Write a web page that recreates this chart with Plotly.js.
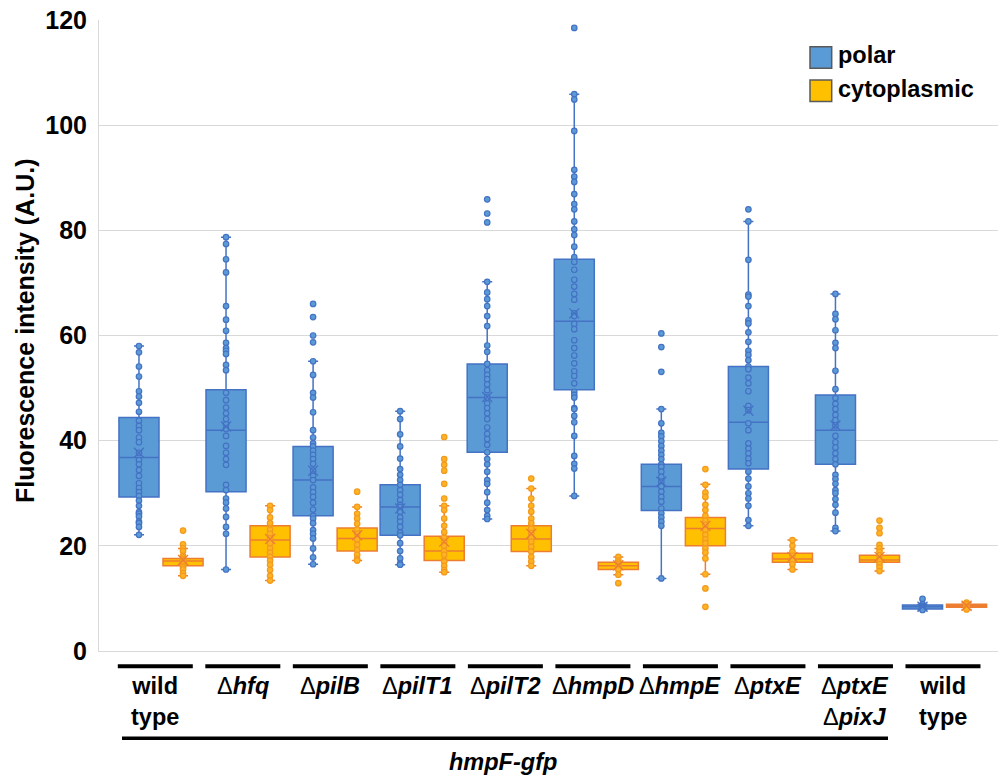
<!DOCTYPE html>
<html>
<head>
<meta charset="utf-8">
<script src="https://cdn.plot.ly/plotly-3.0.1.min.js"></script>
<style>html,body{margin:0;padding:0;background:#fff;}#chart{width:998px;height:781px;}</style>
</head>
<body>
<div id="chart"></div>
<script>
// ---------- data ----------
const categories = ['wild<br>type', 'Δ<i>hfq</i>', 'Δ<i>pilB</i>', 'Δ<i>pilT1</i>', 'Δ<i>pilT2</i>',
  'Δ<i>hmpD</i>', 'Δ<i>hmpE</i>', 'Δ<i>ptxE</i>', 'Δ<i>ptxE</i><br>Δ<i>pixJ</i>', 'wild<br>type'];
const seriesNames = ['polar', 'cytoplasmic'];
const groupLabel = 'hmpF-gfp';
const yTitle = 'Fluorescence intensity (A.U.)';

// polar box statistics
const polarQ1     = [29.3, 30.3, 25.7, 22.0, 37.8, 49.7, 26.7, 34.6, 35.5, 8.0];
const polarMedian = [36.8, 42.0, 32.5, 27.4, 48.2, 62.7, 31.3, 43.5, 42.0, 8.4];
const polarQ3     = [44.4, 49.7, 38.9, 31.6, 54.6, 74.5, 35.5, 54.1, 48.7, 8.75];
const polarLow    = [22.1, 15.5, 16.5, 16.4, 25.1, 29.5, 13.8, 23.8, 22.8, 7.8];
const polarHigh   = [58.0, 78.7, 55.1, 45.6, 70.2, 105.9, 46.0, 81.7, 67.9, 8.9];
const polarMean   = [37.7, 42.7, 34.3, 27.1, 48.3, 64.2, 32.2, 45.7, 42.9, 8.4];

// cytoplasmic box statistics
const cytoQ1     = [16.2, 17.9, 19.0, 17.2, 18.9, 15.5, 20.0, 16.9, 16.9, 8.3];
const cytoMedian = [17.1, 21.1, 21.4, 19.0, 21.3, 16.2, 23.3, 17.5, 17.3, 8.6];
const cytoQ3     = [17.6, 23.8, 23.4, 21.8, 23.8, 16.9, 25.4, 18.6, 18.2, 8.9];
const cytoLow    = [14.3, 13.4, 17.2, 15.0, 16.2, 14.5, 14.6, 15.5, 15.2, 7.9];
const cytoHigh   = [19.5, 27.6, 27.4, 27.6, 30.9, 17.9, 31.7, 21.1, 19.5, 9.2];
const cytoMean   = [17.3, 21.3, 22.0, 20.8, 22.3, 16.3, 23.8, 17.9, 17.9, 8.6];

// individual measurements
const polarPoints = [
  [58.0, 56.8, 54.1, 52.2, 49.4, 48.4, 47.2, 45.5, 43.8, 42.8, 42.0, 40.6, 39.7, 37.7, 36.3, 35.5, 34.4, 33.3, 31.9, 31.0, 30.2, 29.5, 28.6, 27.6, 26.4, 26.1, 25.6, 24.6, 24.3, 23.6, 22.1],
  [78.7, 77.4, 74.5, 72.0, 65.6, 63.0, 60.9, 58.6, 57.6, 57.1, 56.5, 54.4, 53.4, 49.1, 47.7, 46.3, 45.2, 44.1, 43.1, 42.2, 40.9, 39.0, 37.7, 36.5, 35.4, 31.6, 30.6, 29.0, 28.2, 27.1, 25.5, 23.6, 22.3, 15.5],
  [66.0, 63.5, 60.0, 58.7, 55.1, 52.5, 49.1, 48.2, 45.4, 42.0, 40.6, 39.5, 38.9, 38.1, 37.3, 36.5, 35.6, 34.3, 33.3, 32.5, 31.1, 30.2, 29.3, 28.2, 26.9, 25.7, 25.2, 24.3, 23.0, 22.3, 21.4, 19.5, 17.8, 16.5],
  [45.6, 44.1, 41.2, 38.9, 36.6, 34.6, 33.5, 32.5, 31.6, 30.6, 29.7, 28.7, 27.8, 27.4, 26.5, 25.4, 24.6, 23.6, 22.5, 22.0, 20.5, 19.0, 17.6, 16.6, 16.4],
  [85.9, 83.2, 81.5, 70.2, 68.2, 66.9, 65.6, 63.7, 61.8, 58.1, 56.9, 54.6, 53.4, 52.5, 51.7, 50.7, 49.6, 48.2, 47.1, 46.2, 45.2, 44.1, 42.5, 41.3, 40.3, 39.2, 37.8, 36.5, 35.5, 34.1, 32.5, 31.8, 30.2, 28.2, 26.8, 25.7, 25.1],
  [118.5, 105.9, 104.9, 98.9, 91.5, 90.2, 89.2, 86.9, 85.0, 84.0, 81.7, 80.2, 79.1, 76.9, 74.9, 74.0, 72.5, 70.6, 69.3, 67.9, 66.8, 64.2, 63.7, 62.2, 61.2, 59.1, 57.6, 56.2, 54.7, 53.2, 52.3, 50.9, 49.3, 48.7, 48.2, 46.2, 46.0, 44.7, 43.5, 40.9, 37.1, 35.6, 34.7, 29.5],
  [60.4, 57.8, 53.1, 46.0, 43.3, 41.5, 40.8, 39.9, 39.0, 38.1, 37.3, 36.5, 35.5, 35.0, 34.1, 33.1, 32.2, 31.3, 30.3, 29.3, 28.4, 27.1, 26.2, 25.4, 24.6, 23.8, 13.8],
  [84.0, 81.7, 74.4, 67.8, 67.4, 65.6, 62.9, 62.3, 60.6, 58.8, 57.1, 56.3, 55.3, 54.1, 53.6, 52.0, 50.9, 49.4, 46.6, 45.8, 43.3, 42.0, 39.5, 38.5, 37.6, 36.6, 35.7, 34.1, 32.8, 31.3, 30.0, 29.0, 27.6, 24.9, 23.8],
  [67.9, 64.1, 63.1, 61.0, 58.6, 57.6, 53.3, 49.8, 48.1, 47.0, 46.0, 44.9, 43.9, 42.9, 40.9, 39.7, 38.7, 37.6, 36.5, 35.5, 33.5, 32.7, 31.8, 30.6, 30.0, 28.9, 27.8, 26.3, 23.4, 22.8],
  [9.9, 8.9, 8.6, 8.4, 8.2, 8.0, 7.8]
];
const cytoPoints = [
  [22.9, 20.3, 19.5, 19.0, 18.1, 17.8, 17.5, 17.3, 17.1, 16.8, 16.5, 16.2, 15.9, 15.5, 14.8, 14.3],
  [27.6, 26.8, 25.4, 24.3, 23.1, 22.3, 21.4, 20.5, 19.5, 18.7, 17.9, 17.2, 16.4, 15.4, 14.3, 13.4],
  [30.3, 27.4, 26.1, 25.2, 24.2, 23.1, 22.3, 21.2, 20.2, 19.2, 18.3, 17.5, 17.2],
  [40.7, 36.5, 35.4, 34.3, 31.8, 29.0, 27.6, 26.8, 25.2, 23.8, 22.6, 21.5, 20.8, 20.0, 19.0, 18.3, 17.2, 17.0, 16.2, 15.4, 15.0],
  [32.8, 30.9, 29.0, 27.6, 26.5, 25.2, 24.3, 23.3, 22.4, 21.6, 20.8, 19.8, 18.9, 17.9, 17.0, 16.2],
  [17.9, 17.2, 16.8, 16.5, 16.2, 15.9, 15.5, 14.5, 12.9],
  [34.6, 31.6, 30.1, 29.3, 27.8, 26.8, 25.7, 24.8, 24.0, 23.0, 22.1, 21.2, 20.5, 19.5, 18.7, 17.6, 14.6, 11.9, 8.4],
  [21.1, 20.0, 18.9, 18.1, 17.3, 16.5, 15.5],
  [24.8, 23.4, 22.4, 20.2, 19.5, 18.9, 18.2, 17.4, 16.5, 15.9, 15.2],
  [9.2, 8.9, 8.6, 8.3, 7.9]
];

// ---------- styling / layout helpers ----------
const FONT = 'Liberation Sans, Arial, Helvetica, sans-serif';
const W = 998, H = 781;
const M = {l: 99, r: 0, t: 20, b: 130};
const plotW = W - M.l - M.r, plotH = H - M.t - M.b;
const px2x = px => (px - M.l) / plotW;          // pixel -> paper x
const py2y = py => (H - M.b - py) / plotH;      // pixel -> paper y

const OFF = 0.253, BOXW = 0.46;
const idx = categories.map((_, i) => i);
const polarPos = idx.map(i => i - OFF);
const cytoPos = idx.map(i => i + OFF);

const styles = {
  polar: {fill: '#5B9BD5', line: '#4472C4', pt: '#5B9BD5', ptLine: '#4472C4'},
  cyto:  {fill: '#FFC000', line: '#ED7D31', pt: '#FDB322', ptLine: '#F39A1E'}
};

function boxTrace(name, pos, q1, med, q3, lo, hi, st) {
  return {
    type: 'box', name: name, x: pos, q1: q1, median: med, q3: q3,
    lowerfence: lo, upperfence: hi, boxpoints: false, width: BOXW,
    whiskerwidth: 0.25, fillcolor: st.fill,
    line: {color: st.line, width: 1.5}, showlegend: false, hoverinfo: 'skip'
  };
}
function pointTrace(name, pos, pts, st) {
  const xs = [], ys = [];
  pts.forEach((arr, i) => arr.forEach(v => { xs.push(pos[i]); ys.push(v); }));
  return {
    type: 'scatter', mode: 'markers', name: name, x: xs, y: ys, showlegend: false,
    marker: {size: 5.5, color: st.pt, line: {color: st.ptLine, width: 1.2}}, hoverinfo: 'skip'
  };
}
function meanTrace(name, pos, mean, st) {
  return {
    type: 'scatter', mode: 'markers', name: name + ' mean', x: pos, y: mean, showlegend: false,
    marker: {symbol: 'x-thin-open', size: 10, color: st.line, line: {color: st.line, width: 1.3}},
    hoverinfo: 'skip'
  };
}

const traces = [
  boxTrace(seriesNames[0], polarPos, polarQ1, polarMedian, polarQ3, polarLow, polarHigh, styles.polar),
  boxTrace(seriesNames[1], cytoPos, cytoQ1, cytoMedian, cytoQ3, cytoLow, cytoHigh, styles.cyto),
  pointTrace(seriesNames[0], polarPos, polarPoints, styles.polar),
  pointTrace(seriesNames[1], cytoPos, cytoPoints, styles.cyto),
  meanTrace(seriesNames[0], polarPos, polarMean, styles.polar),
  meanTrace(seriesNames[1], cytoPos, cytoMean, styles.cyto)
];

// group bars & labels (decorations below the axis)
const shapes = [];
const annotations = [];
const barCenter = i => 155.3 + 87.52 * i;
idx.forEach(i => {
  const c = barCenter(i);
  shapes.push({type: 'line', xref: 'paper', yref: 'paper',
    x0: px2x(c - 37.5), x1: px2x(c + 37.5), y0: py2y(666.3), y1: py2y(666.3),
    line: {color: '#000', width: 4}});
  annotations.push({xref: 'paper', yref: 'paper', x: px2x(c), y: py2y(671),
    xanchor: 'center', yanchor: 'top', align: 'center', showarrow: false,
    text: categories[i].replace(/Δ/g, '<span style="font-weight:normal">Δ</span>'),
    font: {family: FONT, size: 23.5, color: '#000', weight: 700}});
});
shapes.push({type: 'line', xref: 'paper', yref: 'paper',
  x0: px2x(122), x1: px2x(888), y0: py2y(738.3), y1: py2y(738.3),
  line: {color: '#000', width: 3.5}});
annotations.push({xref: 'paper', yref: 'paper', x: px2x(503), y: py2y(762),
  xanchor: 'center', yanchor: 'middle', showarrow: false,
  text: '<i>' + groupLabel + '</i>', font: {family: FONT, size: 23.5, color: '#000', weight: 700}});

// y title
annotations.push({xref: 'paper', yref: 'paper', x: px2x(25), y: py2y(331),
  xanchor: 'center', yanchor: 'middle', showarrow: false, textangle: -90,
  text: yTitle, font: {family: FONT, size: 25, color: '#000', weight: 700}});

// legend
[[seriesNames[0], styles.polar.fill, 46.7, 55.5], [seriesNames[1], styles.cyto.fill, 80, 89.5]].forEach(([nm, col, top, mid]) => {
  shapes.push({type: 'rect', xref: 'paper', yref: 'paper',
    x0: px2x(810), x1: px2x(831.7), y0: py2y(top), y1: py2y(top + 21.6),
    fillcolor: col, line: {color: '#595959', width: 1.5}});
  annotations.push({xref: 'paper', yref: 'paper', x: px2x(836), y: py2y(mid),
    xanchor: 'left', yanchor: 'middle', showarrow: false, text: nm,
    font: {family: FONT, size: 23.5, color: '#000', weight: 700}});
});

const layout = {
  width: W, height: H, margin: M,
  paper_bgcolor: '#fff', plot_bgcolor: '#fff',
  showlegend: false, boxmode: 'overlay',
  font: {family: FONT, color: '#000'},
  xaxis: {range: [(M.l - 161) / 87.06, (W - M.r - 161) / 87.06], showgrid: false, zeroline: false,
    showticklabels: false, ticks: '', showline: true, linecolor: '#D9D9D9', linewidth: 1, fixedrange: true},
  yaxis: {range: [0, 120], dtick: 20, tick0: 0, showgrid: true, gridcolor: '#D9D9D9', gridwidth: 1,
    zeroline: false, showline: true, linecolor: '#D9D9D9', linewidth: 1, ticks: '',
    ticklabelstandoff: 6, tickfont: {family: FONT, size: 25, color: '#000', weight: 700}, fixedrange: true},
  shapes: shapes,
  annotations: annotations
};

Plotly.newPlot('chart', traces, layout, {displayModeBar: false, staticPlot: true});
</script>
</body>
</html>
